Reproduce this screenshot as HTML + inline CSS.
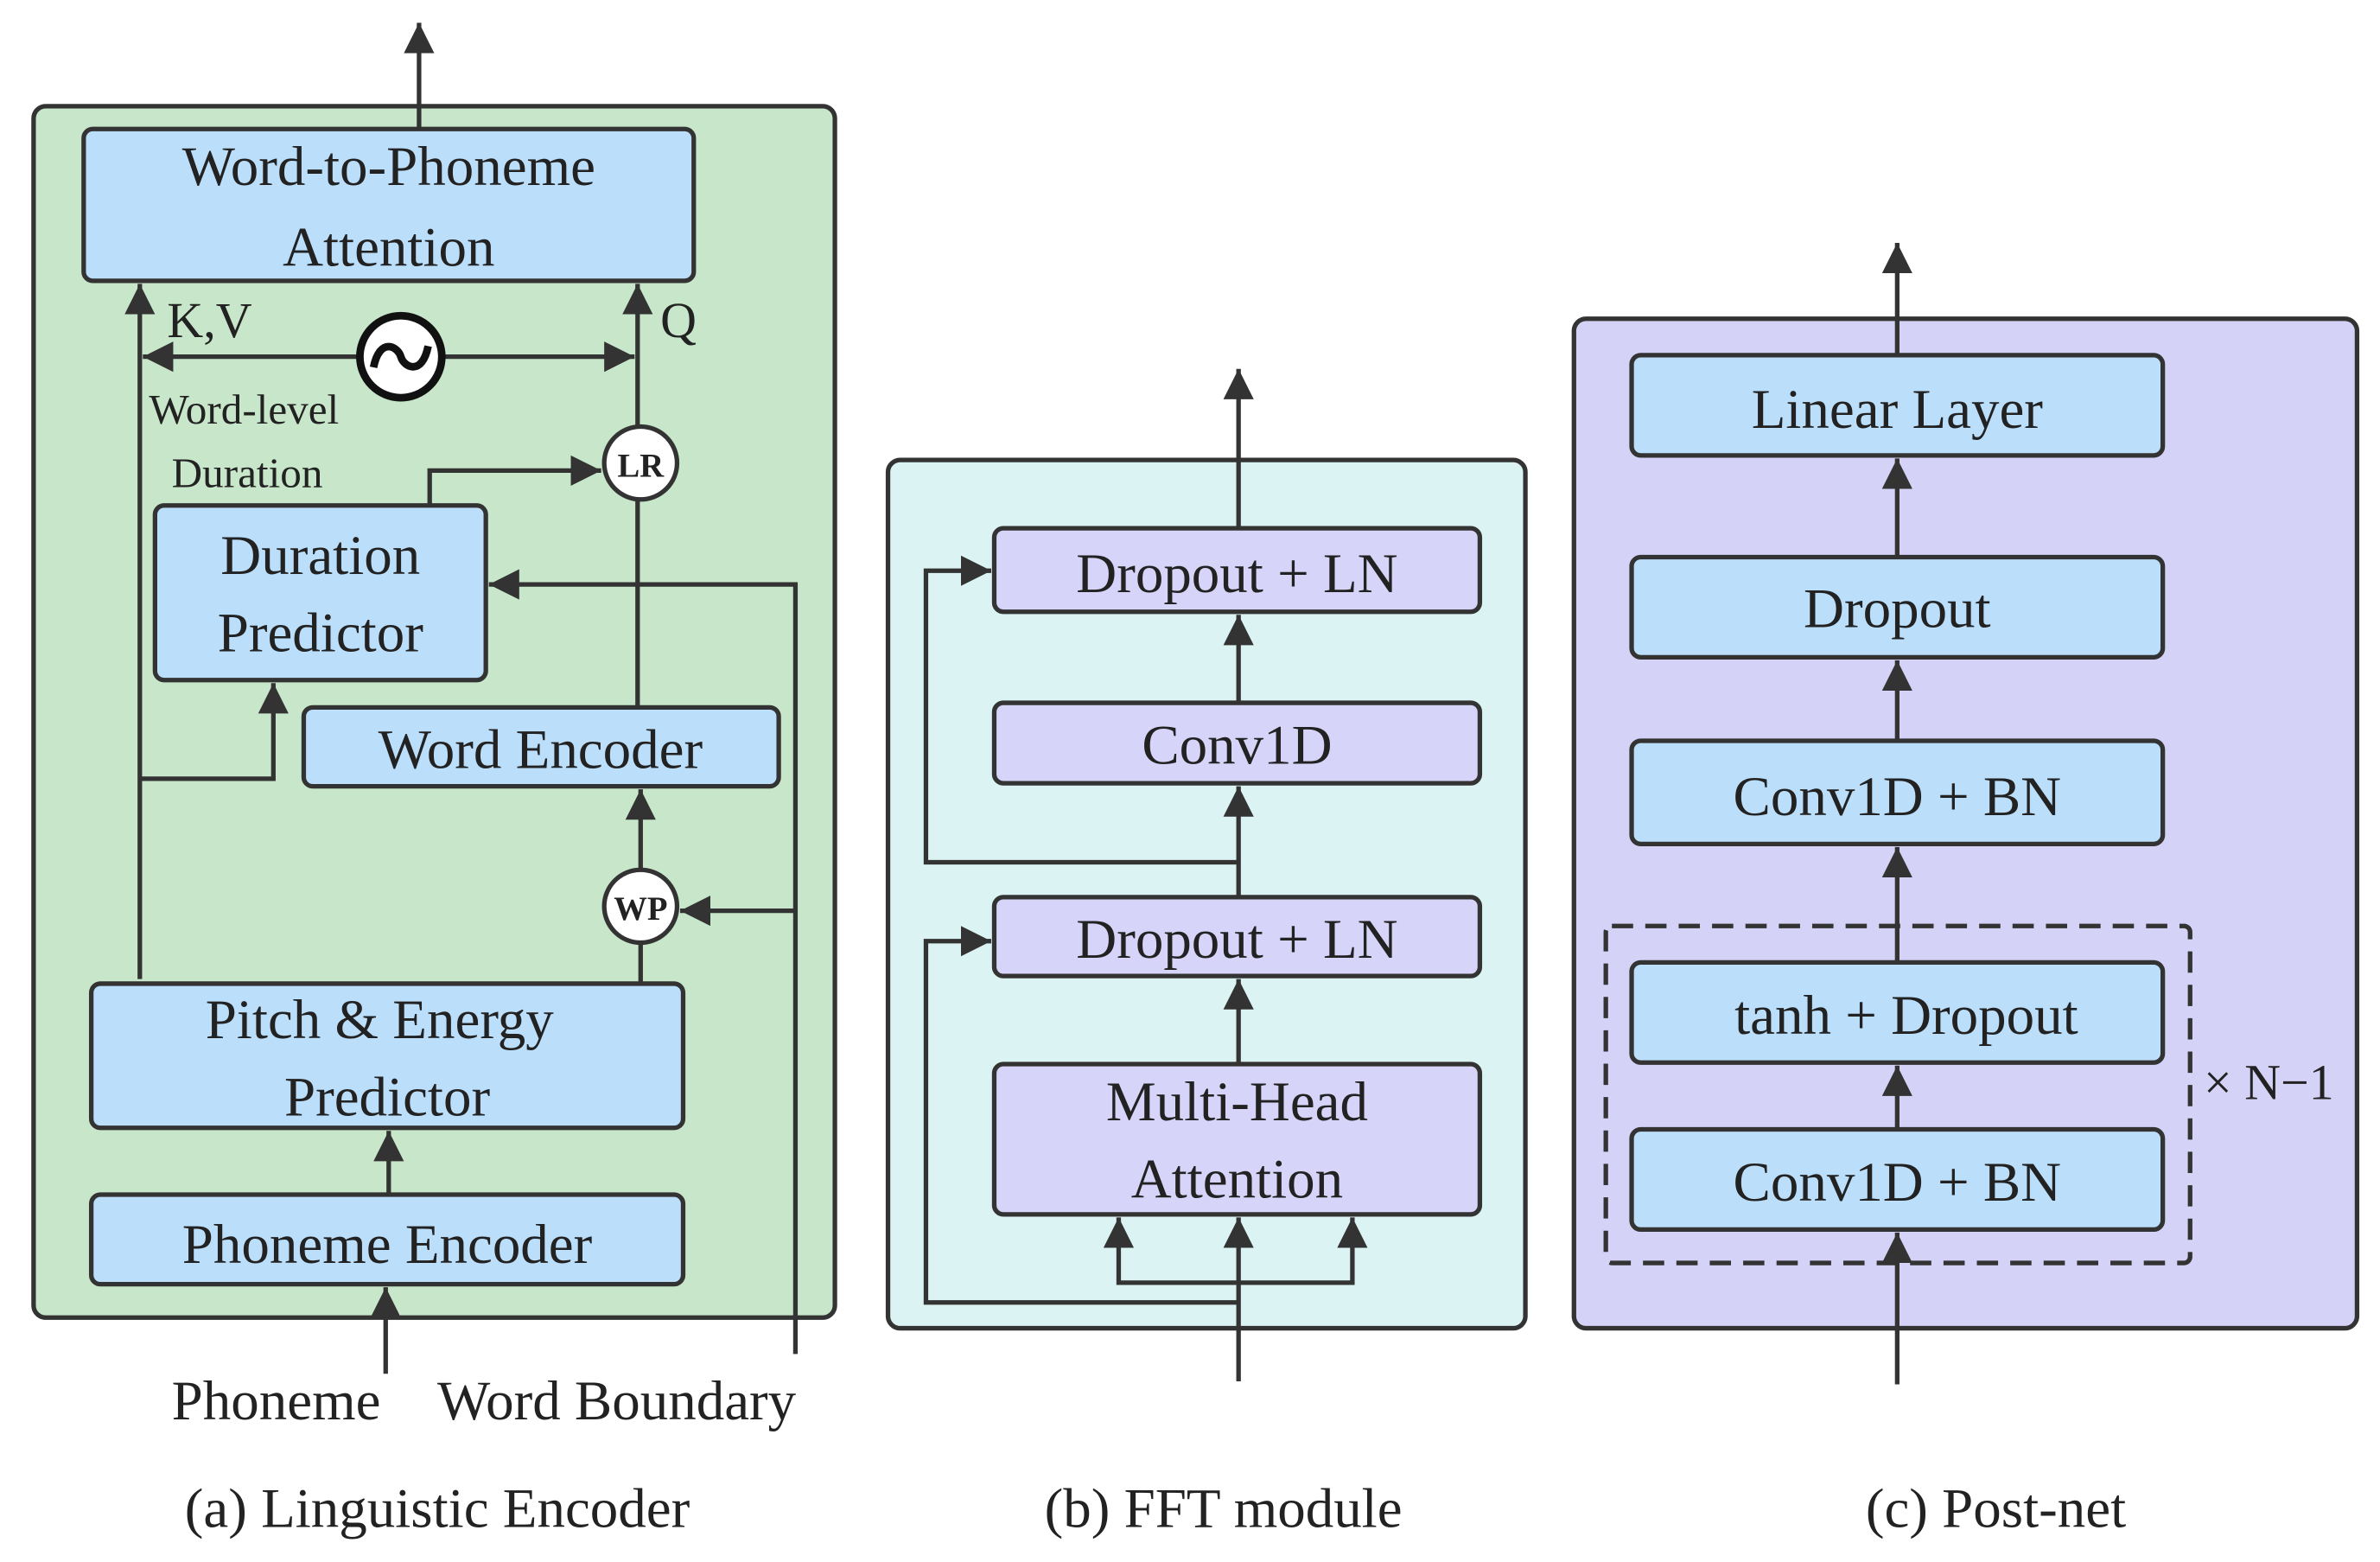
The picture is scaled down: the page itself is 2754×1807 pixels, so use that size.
<!DOCTYPE html>
<html><head><style>html,body{margin:0;padding:0;background:#fff}svg{display:block}text{font-family:"Liberation Serif","DejaVu Serif",serif}</style></head><body>
<svg width="2754" height="1807" viewBox="0 0 1568 1029" xmlns="http://www.w3.org/2000/svg" fill="#222">
<defs>
<marker id="h" viewBox="0 0 10 10" markerWidth="20" markerHeight="22" refX="10" refY="5" orient="auto-start-reverse" markerUnits="userSpaceOnUse"><path d="M0,0 L10,5 L0,10 z" fill="#333"/></marker>
</defs>
<g stroke="#333" stroke-width="3" fill="none">
<rect x="22" y="70" width="528" height="798" rx="8" fill="#c8e6c9"/>
<rect x="55" y="85" width="402" height="100" rx="6" fill="#bbdefb"/>
<rect x="102" y="333" width="218" height="115" rx="6" fill="#bbdefb"/>
<rect x="200" y="466" width="313" height="52" rx="6" fill="#bbdefb"/>
<rect x="60" y="648" width="390" height="95" rx="6" fill="#bbdefb"/>
<rect x="60" y="787" width="390" height="59" rx="6" fill="#bbdefb"/>
<line x1="276" y1="85" x2="276" y2="15" marker-end="url(#h)"/>
<line x1="92" y1="645" x2="92" y2="187" marker-end="url(#h)"/>
<line x1="420" y1="466" x2="420" y2="187" marker-end="url(#h)"/>
<line x1="238" y1="235" x2="94" y2="235" marker-end="url(#h)"/>
<line x1="292" y1="235" x2="418" y2="235" marker-end="url(#h)"/>
<polyline points="283,332 283,310 396,310" marker-end="url(#h)"/>
<polyline points="524,892 524,385 322,385" marker-end="url(#h)"/>
<polyline points="92,513 180,513 180,450" marker-end="url(#h)"/>
<line x1="422" y1="648" x2="422" y2="621"/>
<line x1="422" y1="573" x2="422" y2="520" marker-end="url(#h)"/>
<line x1="524" y1="600" x2="448" y2="600" marker-end="url(#h)"/>
<line x1="256" y1="787" x2="256" y2="745" marker-end="url(#h)"/>
<line x1="254" y1="905" x2="254" y2="848" marker-end="url(#h)"/>
<circle cx="264" cy="235" r="27" fill="#fff" stroke-width="5" stroke="#111"/>
<path d="M246,242 C250,222 262,228 264,235 C266,242 278,248 282,228" stroke="#111" stroke-width="5"/>
<circle cx="422" cy="305" r="24" fill="#fff"/>
<circle cx="422" cy="597" r="24" fill="#fff"/>
<rect x="585" y="303" width="420" height="572" rx="8" fill="#dcf3f3"/>
<rect x="655" y="348" width="320" height="55" rx="6" fill="#d6d4f8"/>
<rect x="655" y="463" width="320" height="53" rx="6" fill="#d6d4f8"/>
<rect x="655" y="591" width="320" height="52" rx="6" fill="#d6d4f8"/>
<rect x="655" y="701" width="320" height="99" rx="6" fill="#d6d4f8"/>
<line x1="816" y1="348" x2="816" y2="243" marker-end="url(#h)"/>
<line x1="816" y1="463" x2="816" y2="405" marker-end="url(#h)"/>
<line x1="816" y1="591" x2="816" y2="518" marker-end="url(#h)"/>
<line x1="816" y1="701" x2="816" y2="645" marker-end="url(#h)"/>
<polyline points="816,568 610,568 610,376 653,376" marker-end="url(#h)"/>
<polyline points="816,858 610,858 610,620 653,620" marker-end="url(#h)"/>
<line x1="816" y1="910" x2="816" y2="802" marker-end="url(#h)"/>
<polyline points="737,802 737,845 891,845 891,802" marker-start="url(#h)" marker-end="url(#h)"/>
<rect x="1037" y="210" width="516" height="665" rx="8" fill="#d4d3f7"/>
<rect x="1075" y="234" width="350" height="66" rx="6" fill="#bbdefb"/>
<rect x="1075" y="367" width="350" height="66" rx="6" fill="#bbdefb"/>
<rect x="1075" y="488" width="350" height="68" rx="6" fill="#bbdefb"/>
<rect x="1058" y="610" width="385" height="222" rx="4" stroke-dasharray="14,8"/>
<rect x="1075" y="634" width="350" height="66" rx="6" fill="#bbdefb"/>
<rect x="1075" y="744" width="350" height="66" rx="6" fill="#bbdefb"/>
<line x1="1250" y1="234" x2="1250" y2="160" marker-end="url(#h)"/>
<line x1="1250" y1="367" x2="1250" y2="302" marker-end="url(#h)"/>
<line x1="1250" y1="488" x2="1250" y2="435" marker-end="url(#h)"/>
<line x1="1250" y1="634" x2="1250" y2="558" marker-end="url(#h)"/>
<line x1="1250" y1="744" x2="1250" y2="702" marker-end="url(#h)"/>
<line x1="1250" y1="912" x2="1250" y2="812" marker-end="url(#h)"/>
</g>
<g font-size="37" text-anchor="middle">
<text x="256" y="122">Word-to-Phoneme</text>
<text x="256" y="175">Attention</text>
<text x="211" y="378">Duration</text>
<text x="211" y="429">Predictor</text>
<text x="356" y="506">Word Encoder</text>
<text x="250" y="684">Pitch &amp; Energy</text>
<text x="255" y="735">Predictor</text>
<text x="255" y="832">Phoneme Encoder</text>
<text x="422" y="314" font-size="22" font-weight="bold">LR</text>
<text x="422" y="606" font-size="22" font-weight="bold">WP</text>
<text x="815" y="390">Dropout + LN</text>
<text x="815" y="503">Conv1D</text>
<text x="815" y="631">Dropout + LN</text>
<text x="815" y="738">Multi-Head</text>
<text x="815" y="789">Attention</text>
<text x="1250" y="282">Linear Layer</text>
<text x="1250" y="413">Dropout</text>
<text x="1250" y="537">Conv1D + BN</text>
<text x="1256" y="681">tanh + Dropout</text>
<text x="1250" y="791">Conv1D + BN</text>
<text x="288" y="1006">(a) Linguistic Encoder</text>
<text x="806" y="1006">(b) FFT module</text>
<text x="1315" y="1006">(c) Post-net</text>
</g>
<g font-size="33">
<text x="110" y="222">K,V</text>
<text x="435" y="222">Q</text>
<text x="1452" y="724">× N−1</text>
</g>
<text x="98" y="279" font-size="28">Word-level</text>
<text x="113" y="321" font-size="28">Duration</text>
<text x="113" y="935" font-size="37">Phoneme</text>
<text x="288" y="935" font-size="37">Word Boundary</text>
</svg>
</body></html>
